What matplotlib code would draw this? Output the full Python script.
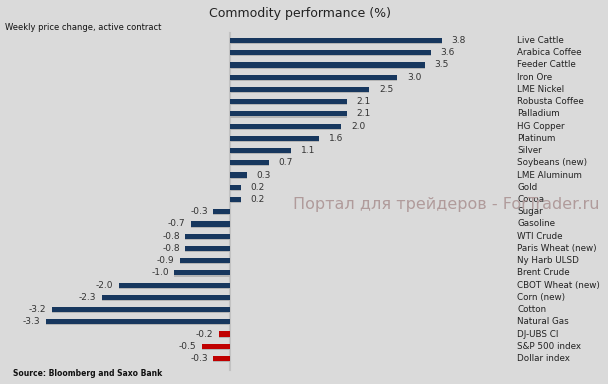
import matplotlib
matplotlib.use("Agg")
import matplotlib.pyplot as plt

categories = ["Live Cattle", "Arabica Coffee", "Feeder Cattle", "Iron Ore", "LME Nickel",
              "Robusta Coffee", "Palladium", "HG Copper", "Platinum", "Silver",
              "Soybeans (new)", "LME Aluminum", "Gold", "Cocoa", "Sugar", "Gasoline",
              "WTI Crude", "Paris Wheat (new)", "Ny Harb ULSD", "Brent Crude",
              "CBOT Wheat (new)", "Corn (new)", "Cotton", "Natural Gas",
              "DJ-UBS CI", "S&P 500 index", "Dollar index"]
values = [3.8, 3.6, 3.5, 3.0, 2.5, 2.1, 2.1, 2.0, 1.6, 1.1, 0.7, 0.3, 0.2, 0.2,
          -0.3, -0.7, -0.8, -0.8, -0.9, -1.0, -2.0, -2.3, -3.2, -3.3,
          -0.2, -0.5, -0.3]
groups = ["commodity"] * 24 + ["index"] * 3

BG = "#dadada"
NAVY = "#17375e"
RED = "#c00000"
colors = [NAVY if g == "commodity" else RED for g in groups]

fig = plt.figure(figsize=(6.08, 3.84), dpi=100, facecolor=BG)
ax = fig.add_axes([0, 0, 1, 1])
ax.set_facecolor(BG)

px = 55.7  # pixels per unit
x0 = 230
ax.set_xlim(-x0 / px, (608 - x0) / px)
y_top, dy = 40.5, 12.23
ax.set_ylim((384 - y_top) / dy, (0 - y_top) / dy)
ax.axis("off")

ypos = list(range(len(categories)))
# zero line
ax.plot([0, 0], [(33 - y_top) / dy, (370 - y_top) / dy], color="#c2c2c2", lw=1.5, zorder=1)
# shadow
ax.barh([y + 0.09 for y in ypos], values, height=0.42, left=0, color="#b4b4b4",
        zorder=2, edgecolor="none")
ax.barh(ypos, values, height=0.42, color=colors, zorder=3, edgecolor="none")

for y, v, c in zip(ypos, values, categories):
    if v >= 0:
        ax.annotate(f"{v:.1f}", (v, y), xytext=(7, 0), textcoords="offset points",
                    ha="left", va="center", fontsize=6.5, color="#333333")
    else:
        ax.annotate(f"{v:.1f}", (v, y), xytext=(-4, 0), textcoords="offset points",
                    ha="right", va="center", fontsize=6.5, color="#333333")
    ax.text((517 - x0) / px, y, c, ha="left", va="center", fontsize=6.3, color="#222222")

fig.text(300 / 608, 1 - 13 / 384, "Commodity performance (%)", ha="center", va="center",
         fontsize=9, color="#222222")
fig.text(5 / 608, 1 - 28 / 384, "Weekly price change, active contract", ha="left",
         va="center", fontsize=6, color="#111111")
fig.text(13 / 608, 1 - 374 / 384, "Source: Bloomberg and Saxo Bank", ha="left",
         va="center", fontsize=5.5, color="#111111", fontweight="bold")
fig.text(293 / 608, 1 - 205 / 384, "Портал для трейдеров - ForTrader.ru", ha="left",
         va="center", fontsize=11.5, color="#b09b9b", zorder=10)

fig.savefig("out.png", dpi=100, facecolor=BG)
